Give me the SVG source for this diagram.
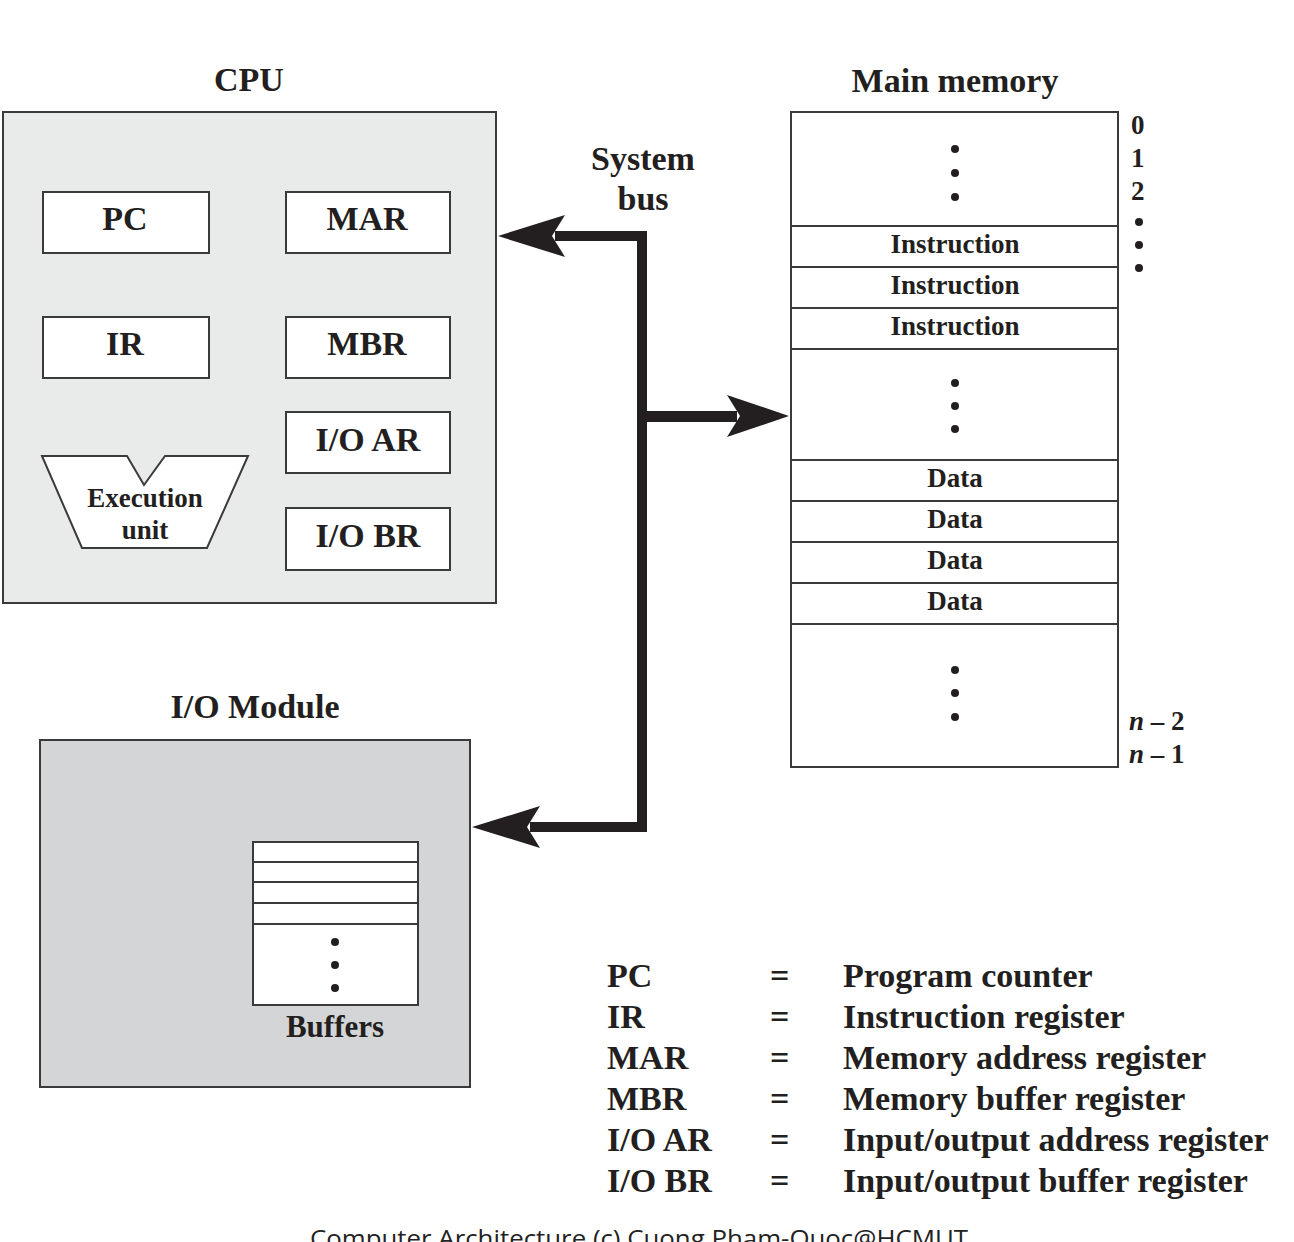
<svg xmlns="http://www.w3.org/2000/svg" width="1294" height="1242" viewBox="0 0 1294 1242">
<style>
.t{font-family:"Liberation Serif","Times New Roman",serif;font-weight:bold;fill:#231f20}
.b{stroke:#3a3a3a;stroke-width:2;fill:#fff}
.big{font-size:34px}
.mid{font-size:27px}
.c{text-anchor:middle}
.ln{stroke:#3a3a3a;stroke-width:2}
</style>
<defs>
<circle id="dot" r="4" fill="#231f20"/>
</defs>
<rect width="1294" height="1242" fill="#fff"/>
<g id="cpu">
<text class="t big c" x="249" y="91">CPU</text>
<rect x="3" y="112" width="493" height="491" fill="#e9eaea" stroke="#3a3a3a" stroke-width="2"/>
<g id="pc"><rect class="b" x="43" y="192" width="166" height="61"/><text class="t big c" x="125" y="230">PC</text></g>
<g id="mar"><rect class="b" x="286" y="192" width="164" height="61"/><text class="t big c" x="367" y="230">MAR</text></g>
<g id="ir"><rect class="b" x="43" y="317" width="166" height="61"/><text class="t big c" x="125" y="355">IR</text></g>
<g id="mbr"><rect class="b" x="286" y="317" width="164" height="61"/><text class="t big c" x="367" y="355">MBR</text></g>
<g id="ioar"><rect class="b" x="286" y="412" width="164" height="61"/><text class="t big c" x="368" y="451">I/O AR</text></g>
<g id="iobr"><rect class="b" x="286" y="508" width="164" height="62"/><text class="t big c" x="368" y="547">I/O BR</text></g>
<g id="exec">
<polygon class="b" points="42,456 127,456 144,485 165,456 248,456 207,548 82,548"/>
<text class="t mid c" x="145" y="507">Execution</text>
<text class="t mid c" x="145" y="539">unit</text>
</g>
</g>
<g id="memory">
<text class="t big c" x="955" y="92">Main memory</text>
<rect class="b" x="791" y="112" width="327" height="655"/>
<g class="ln">
<line x1="791" y1="226" x2="1118" y2="226"/>
<line x1="791" y1="267" x2="1118" y2="267"/>
<line x1="791" y1="308" x2="1118" y2="308"/>
<line x1="791" y1="349" x2="1118" y2="349"/>
<line x1="791" y1="460" x2="1118" y2="460"/>
<line x1="791" y1="501" x2="1118" y2="501"/>
<line x1="791" y1="542" x2="1118" y2="542"/>
<line x1="791" y1="583" x2="1118" y2="583"/>
<line x1="791" y1="624" x2="1118" y2="624"/>
</g>
<use href="#dot" x="955" y="149"/><use href="#dot" x="955" y="173"/><use href="#dot" x="955" y="197"/>
<text class="t mid c" x="955" y="253">Instruction</text>
<text class="t mid c" x="955" y="294">Instruction</text>
<text class="t mid c" x="955" y="335">Instruction</text>
<use href="#dot" x="955" y="383"/><use href="#dot" x="955" y="406"/><use href="#dot" x="955" y="429"/>
<text class="t mid c" x="955" y="487">Data</text>
<text class="t mid c" x="955" y="528">Data</text>
<text class="t mid c" x="955" y="569">Data</text>
<text class="t mid c" x="955" y="610">Data</text>
<use href="#dot" x="955" y="670"/><use href="#dot" x="955" y="693"/><use href="#dot" x="955" y="717"/>
<text class="t mid" x="1131" y="134">0</text>
<text class="t mid" x="1131" y="167">1</text>
<text class="t mid" x="1131" y="200">2</text>
<use href="#dot" x="1139" y="222"/><use href="#dot" x="1139" y="245"/><use href="#dot" x="1139" y="268"/>
<text class="t mid" x="1129" y="730"><tspan font-style="italic">n</tspan> – 2</text>
<text class="t mid" x="1129" y="763"><tspan font-style="italic">n</tspan> – 1</text>
</g>
<g id="iomodule">
<text class="t big c" x="255" y="718">I/O Module</text>
<rect x="40" y="740" width="430" height="347" fill="#d4d5d6" stroke="#3a3a3a" stroke-width="2"/>
<rect class="b" x="253" y="842" width="165" height="163"/>
<g class="ln">
<line x1="253" y1="862" x2="418" y2="862"/>
<line x1="253" y1="882" x2="418" y2="882"/>
<line x1="253" y1="903" x2="418" y2="903"/>
<line x1="253" y1="924" x2="418" y2="924"/>
</g>
<use href="#dot" x="335" y="942"/><use href="#dot" x="335" y="965"/><use href="#dot" x="335" y="988"/>
<text class="t c" font-size="31" x="335" y="1037">Buffers</text>
</g>
<g id="connectors" fill="#231f20">
<text class="t big c" x="643" y="170">System</text>
<text class="t big c" x="643" y="210">bus</text>
<path d="M647,231 V832 H530 V822 H637 V241 H555 V231 Z"/>
<rect x="647" y="411" width="90" height="11"/>
<polygon points="498,236 565,215 552,236 565,257"/>
<polygon points="789,416 727,395 740,416 727,437"/>
<polygon points="472,827 540,806 527,827 540,848"/>
</g>
<g id="legend" class="t big">
<text x="607" y="987">PC</text><text x="770" y="987">=</text><text x="843" y="987">Program counter</text>
<text x="607" y="1028">IR</text><text x="770" y="1028">=</text><text x="843" y="1028">Instruction register</text>
<text x="607" y="1069">MAR</text><text x="770" y="1069">=</text><text x="843" y="1069">Memory address register</text>
<text x="607" y="1110">MBR</text><text x="770" y="1110">=</text><text x="843" y="1110">Memory buffer register</text>
<text x="607" y="1151">I/O AR</text><text x="770" y="1151">=</text><text x="843" y="1151">Input/output address register</text>
<text x="607" y="1192">I/O BR</text><text x="770" y="1192">=</text><text x="843" y="1192">Input/output buffer register</text>
</g>
<text x="310" y="1247" font-family="'Open Sans','Liberation Sans',sans-serif" font-size="24" fill="#222" textLength="658" lengthAdjust="spacingAndGlyphs">Computer Architecture (c) Cuong Pham-Quoc@HCMUT</text>
</svg>
